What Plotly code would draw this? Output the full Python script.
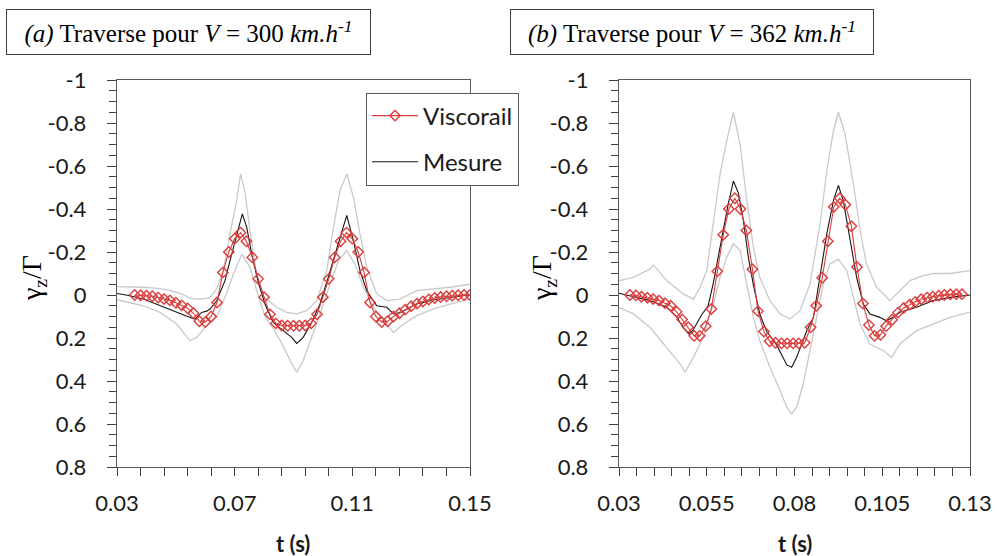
import plotly.graph_objects as go

# ---------------- data: panel (a) V = 300 km/h ----------------
a_visco_t = [0.036, 0.038, 0.040, 0.042, 0.044, 0.046, 0.048, 0.050, 0.052, 0.054,
             0.056, 0.058, 0.060, 0.062, 0.064, 0.066, 0.068, 0.070, 0.072, 0.074,
             0.076, 0.078, 0.080, 0.082, 0.084, 0.086, 0.088, 0.090, 0.092, 0.094,
             0.096, 0.098, 0.100, 0.102, 0.104, 0.106, 0.108, 0.110, 0.112, 0.114,
             0.116, 0.118, 0.120, 0.122, 0.124, 0.126, 0.128, 0.130, 0.132, 0.134,
             0.136, 0.138, 0.140, 0.142, 0.144, 0.146, 0.148, 0.150]
a_visco_v = [0.000, 0.001, 0.003, 0.006, 0.012, 0.019, 0.025, 0.036, 0.048, 0.062,
             0.085, 0.122, 0.126, 0.100, 0.035, -0.105, -0.200, -0.262, -0.290, -0.250,
             -0.175, -0.075, 0.010, 0.090, 0.132, 0.142, 0.143, 0.143, 0.143, 0.142,
             0.132, 0.090, 0.010, -0.075, -0.175, -0.250, -0.290, -0.262, -0.200, -0.105,
             0.035, 0.100, 0.126, 0.122, 0.100, 0.085, 0.068, 0.052, 0.040, 0.030,
             0.021, 0.014, 0.009, 0.006, 0.003, 0.001, 0.000, 0.000]

a_mes_t = [0.0300, 0.0340, 0.0390, 0.0446, 0.0503, 0.0540, 0.0565, 0.0588, 0.0605, 0.0616,
           0.0639, 0.0667, 0.0690, 0.0707, 0.0726, 0.0741, 0.0758, 0.0780, 0.0803, 0.0831,
           0.0865, 0.0894, 0.0911, 0.0933, 0.0962, 0.0990, 0.1018, 0.1047, 0.1065, 0.1081,
           0.1104, 0.1126, 0.1149, 0.1183, 0.1217, 0.1240, 0.1262, 0.1319, 0.1376, 0.1432,
           0.1489, 0.1500]
a_mes_v = [-0.007, 0.002, 0.019, 0.050, 0.081, 0.100, 0.112, 0.081, 0.075, 0.065,
           0.027, -0.067, -0.190, -0.284, -0.377, -0.315, -0.190, -0.060, 0.042, 0.127,
           0.166, 0.197, 0.225, 0.197, 0.127, 0.042, -0.082, -0.220, -0.300, -0.370,
           -0.250, -0.113, -0.020, 0.050, 0.057, 0.088, 0.081, 0.042, 0.023, 0.011,
           0.000, 0.002]

a_up_t = [0.0300, 0.0390, 0.0446, 0.0480, 0.0520, 0.0548, 0.0580, 0.0616, 0.0639, 0.0662,
          0.0684, 0.0707, 0.0720, 0.0735, 0.0752, 0.0775, 0.0800, 0.0843, 0.0877, 0.0911,
          0.0945, 0.0979, 0.1013, 0.1036, 0.1058, 0.1081, 0.1104, 0.1126, 0.1149, 0.1183,
          0.1217, 0.1262, 0.1319, 0.1376, 0.1432, 0.1500]
a_up_v = [-0.039, -0.036, -0.030, -0.022, -0.005, 0.015, 0.020, 0.012, -0.028, -0.121,
          -0.284, -0.440, -0.563, -0.480, -0.300, -0.090, 0.011, 0.057, 0.081, 0.088,
          0.073, 0.026, -0.113, -0.315, -0.485, -0.563, -0.454, -0.284, -0.129, -0.005,
          0.026, 0.019, -0.020, -0.028, -0.036, -0.050]

a_lo_t = [0.0300, 0.0390, 0.0446, 0.0503, 0.0548, 0.0571, 0.0605, 0.0639, 0.0667, 0.0696,
          0.0724, 0.0752, 0.0775, 0.0803, 0.0832, 0.0866, 0.0894, 0.0911, 0.0933, 0.0962,
          0.0990, 0.1024, 0.1053, 0.1081, 0.1109, 0.1138, 0.1172, 0.1206, 0.1240, 0.1274,
          0.1319, 0.1376, 0.1432, 0.1500]
a_lo_v = [0.022, 0.050, 0.081, 0.135, 0.213, 0.197, 0.143, 0.104, 0.011, -0.098,
          -0.190, -0.130, -0.020, 0.100, 0.158, 0.240, 0.320, 0.360, 0.305, 0.197,
          0.088, -0.050, -0.160, -0.206, -0.144, -0.036, 0.057, 0.120, 0.174, 0.135,
          0.096, 0.065, 0.042, 0.019]

# ---------------- data: panel (b) V = 362 km/h ----------------
b_visco_t = [0.0331, 0.0348, 0.0364, 0.0381, 0.0397, 0.0414, 0.0431, 0.0447, 0.0464, 0.0480,
             0.0497, 0.0514, 0.0530, 0.0547, 0.0563, 0.0580, 0.0597, 0.0613, 0.0630, 0.0646,
             0.0663, 0.0680, 0.0696, 0.0713, 0.0729, 0.0746, 0.0763, 0.0779, 0.0796, 0.0812,
             0.0829, 0.0846, 0.0862, 0.0879, 0.0895, 0.0912, 0.0929, 0.0945, 0.0962, 0.0978,
             0.0995, 0.1012, 0.1028, 0.1045, 0.1061, 0.1078, 0.1095, 0.1111, 0.1128, 0.1144,
             0.1161, 0.1178, 0.1194, 0.1211, 0.1227, 0.1244, 0.1261, 0.1277]
b_visco_v = [0.000, 0.002, 0.008, 0.013, 0.019, 0.026, 0.038, 0.050, 0.078, 0.114,
             0.150, 0.190, 0.190, 0.145, 0.065, -0.110, -0.280, -0.400, -0.450, -0.400,
             -0.300, -0.120, 0.075, 0.170, 0.215, 0.222, 0.225, 0.225, 0.225, 0.225,
             0.222, 0.150, 0.050, -0.080, -0.250, -0.410, -0.450, -0.420, -0.320, -0.130,
             0.040, 0.140, 0.190, 0.185, 0.145, 0.115, 0.082, 0.060, 0.045, 0.032,
             0.020, 0.012, 0.008, 0.003, 0.000, -0.003, -0.004, -0.004]

b_mes_t = [0.0300, 0.0341, 0.0388, 0.0436, 0.0464, 0.0482, 0.0498, 0.0510, 0.0522, 0.0535,
           0.0554, 0.0569, 0.0583, 0.0597, 0.0612, 0.0626, 0.0640, 0.0655, 0.0669, 0.0683,
           0.0702, 0.0721, 0.0749, 0.0778, 0.0792, 0.0806, 0.0820, 0.0835, 0.0854, 0.0873,
           0.0892, 0.0911, 0.0925, 0.0939, 0.0958, 0.0977, 0.0996, 0.1015, 0.1043, 0.1062,
           0.1081, 0.1100, 0.1148, 0.1195, 0.1243, 0.1300]
b_mes_v = [-0.008, 0.008, 0.026, 0.057, 0.100, 0.150, 0.180, 0.166, 0.130, 0.093,
           0.050, -0.058, -0.180, -0.310, -0.430, -0.530, -0.475, -0.340, -0.170, -0.046,
           0.093, 0.170, 0.232, 0.325, 0.336, 0.290, 0.228, 0.166, 0.104, -0.082,
           -0.284, -0.439, -0.510, -0.439, -0.270, -0.082, 0.042, 0.088, 0.104, 0.120,
           0.104, 0.080, 0.057, 0.026, 0.011, 0.000]

b_up_t = [0.0300, 0.0341, 0.0388, 0.0398, 0.0436, 0.0483, 0.0512, 0.0531, 0.0550, 0.0569,
          0.0588, 0.0607, 0.0626, 0.0645, 0.0664, 0.0683, 0.0701, 0.0730, 0.0759, 0.0787,
          0.0816, 0.0844, 0.0873, 0.0892, 0.0911, 0.0925, 0.0944, 0.0968, 0.0987, 0.1005,
          0.1034, 0.1072, 0.1100, 0.1129, 0.1167, 0.1195, 0.1243, 0.1300]
b_up_v = [-0.067, -0.082, -0.120, -0.140, -0.067, -0.005, 0.020, -0.036, -0.113, -0.330,
          -0.563, -0.718, -0.850, -0.700, -0.440, -0.222, -0.082, 0.026, 0.088, 0.112,
          0.073, -0.050, -0.330, -0.578, -0.764, -0.850, -0.749, -0.516, -0.300, -0.144,
          -0.036, 0.026, -0.020, -0.067, -0.090, -0.100, -0.100, -0.113]

b_lo_t = [0.0300, 0.0341, 0.0388, 0.0436, 0.0474, 0.0488, 0.0512, 0.0540, 0.0569, 0.0588,
          0.0607, 0.0626, 0.0645, 0.0664, 0.0683, 0.0701, 0.0730, 0.0759, 0.0778, 0.0792,
          0.0806, 0.0825, 0.0844, 0.0863, 0.0882, 0.0901, 0.0925, 0.0949, 0.0968, 0.0987,
          0.1015, 0.1053, 0.1077, 0.1100, 0.1148, 0.1195, 0.1243, 0.1300]
b_lo_v = [0.057, 0.088, 0.150, 0.243, 0.320, 0.360, 0.290, 0.197, 0.042, -0.082,
          -0.175, -0.240, -0.206, -0.050, 0.104, 0.212, 0.336, 0.445, 0.522, 0.553,
          0.522, 0.414, 0.259, 0.104, -0.050, -0.144, -0.167, -0.113, 0.011, 0.135,
          0.228, 0.259, 0.290, 0.228, 0.166, 0.135, 0.104, 0.080]

# ---------------- axis ticks ----------------
y_tickvals = [-1, -0.8, -0.6, -0.4, -0.2, 0, 0.2, 0.4, 0.6, 0.8]
y_ticktext = ["-1", "-0.8", "-0.6", "-0.4", "-0.2", "0", "0.2", "0.4", "0.6", "0.8"]
a_xtickvals = [0.03, 0.07, 0.11, 0.15]
a_xticktext = ["0.03", "0.07", "0.11", "0.15"]
b_xtickvals = [0.03, 0.055, 0.08, 0.105, 0.13]
b_xticktext = ["0.03", "0.055", "0.08", "0.105", "0.13"]

titles = ["<i>(a)</i> Traverse pour <i>V</i>\u00a0=\u00a0300 <i>km.h</i><sup><i>-1</i></sup>",
          "<i>(b)</i> Traverse pour <i>V</i>\u00a0=\u00a0362 <i>km.h</i><sup><i>-1</i></sup>"]
legend_names = ["Viscorail", "Mesure"]

# ---------------- styles ----------------
RED = "#DC3C3C"
GRAY = "#C9C9C9"
BLACK = "#151515"
FRAME = "#595959"
SANS = "Lato"
SERIF = "Liberation Serif, Times New Roman, serif"
W, H = 997, 556

fig = go.Figure()

def add_panel(xa, ya, vt, vv, mt, mv, ut, uv, lt, lv, show):
    fig.add_trace(go.Scatter(x=ut, y=uv, mode="lines", line=dict(color=GRAY, width=1.3),
                             xaxis=xa, yaxis=ya, showlegend=False, hoverinfo="skip"))
    fig.add_trace(go.Scatter(x=lt, y=lv, mode="lines", line=dict(color=GRAY, width=1.3),
                             xaxis=xa, yaxis=ya, showlegend=False, hoverinfo="skip"))
    fig.add_trace(go.Scatter(x=mt, y=mv, mode="lines", name=legend_names[1],
                             line=dict(color=BLACK, width=1.1),
                             xaxis=xa, yaxis=ya, showlegend=show, legendgroup="m"))
    fig.add_trace(go.Scatter(x=vt, y=vv, mode="lines+markers", name=legend_names[0],
                             line=dict(color=RED, width=1.1),
                             marker=dict(symbol="diamond-open", size=8, color=RED,
                                         line=dict(width=1.4, color=RED)),
                             xaxis=xa, yaxis=ya, showlegend=show, legendgroup="v",
                             legendrank=1))

add_panel("x", "y", a_visco_t, a_visco_v, a_mes_t, a_mes_v, a_up_t, a_up_v, a_lo_t, a_lo_v, True)
add_panel("x2", "y2", b_visco_t, b_visco_v, b_mes_t, b_mes_v, b_up_t, b_up_v, b_lo_t, b_lo_v, False)

tickfont = dict(family=SANS, size=22, color="#1a1a1a")
ydom = [1 - 467 / H, 1 - 80 / H]

def xaxis(dom, rng, tv, tt, minor_dt, anchor):
    return dict(domain=dom, range=rng, anchor=anchor, tickmode="array", tickvals=tv, ticktext=tt,
                ticks="outside", ticklen=8, tickwidth=1.2, tickcolor="#404040",
                minor=dict(dtick=minor_dt, tick0=0.03, ticks="outside", ticklen=8,
                           tickwidth=1.2, tickcolor="#404040"),
                showline=True, linecolor=FRAME, linewidth=1.4, mirror=True, automargin=False,
                showgrid=False, zeroline=False, tickfont=tickfont, ticklabelstandoff=8)

def yaxis(anchor):
    return dict(domain=ydom, range=[0.8, -1], anchor=anchor, tickmode="array",
                tickvals=y_tickvals, ticktext=y_ticktext,
                ticks="outside", ticklen=9, tickwidth=1.2, tickcolor="#404040",
                minor=dict(dtick=0.05, tick0=0, ticks="outside", ticklen=7,
                           tickwidth=1.2, tickcolor="#404040"),
                showline=True, linecolor=FRAME, linewidth=1.4, mirror=True, automargin=False,
                showgrid=False, zeroline=False, tickfont=tickfont, ticklabelstandoff=16)

fig.update_layout(
    width=W, height=H,
    margin=dict(l=0, r=0, t=0, b=0, autoexpand=False),
    paper_bgcolor="white", plot_bgcolor="white",
    xaxis=xaxis([117 / W, 470 / W], [0.03, 0.15], a_xtickvals, a_xticktext, 0.008, "y"),
    yaxis=yaxis("x"),
    xaxis2=xaxis([619 / W, 970 / W], [0.03, 0.13], b_xtickvals, b_xticktext, 0.005, "y2"),
    yaxis2=yaxis("x2"),
    showlegend=True,
    legend=dict(x=366 / W, y=1 - 92.5 / H, xanchor="left", yanchor="top",
                bgcolor="white", bordercolor=FRAME, borderwidth=1,
                font=dict(family=SANS, size=24, color="#1a1a1a"),
                tracegroupgap=12, traceorder="grouped", itemwidth=46),
)

# panel titles (boxed)
for txt, cx, wbox in [(titles[0], (6 + 371) / 2, 365), (titles[1], (510 + 874) / 2, 364)]:
    fig.add_annotation(text=txt, x=cx / W, y=1 - 32 / H, xref="paper", yref="paper",
                       xanchor="center", yanchor="middle", showarrow=False,
                       font=dict(family=SERIF, size=25, color="black"),
                       bordercolor="#404040", borderwidth=1, borderpad=1,
                       width=wbox - 4, height=42, bgcolor="white")

# axis titles
for cx in [33, 543]:
    fig.add_annotation(text="γ<sub>z</sub>/Γ", x=cx / W, y=1 - 278 / H, xref="paper", yref="paper",
                       xanchor="center", yanchor="middle", showarrow=False, textangle=-90,
                       font=dict(family=SERIF, size=28, color="black"))
for cx in [293, 795]:
    fig.add_annotation(text="<b>t (s)</b>", x=cx / W, y=1 - 543 / H, xref="paper", yref="paper",
                       xanchor="center", yanchor="middle", showarrow=False,
                       font=dict(family=SANS, size=22, color="#1a1a1a"))

fig.write_html("out.html", config={"displayModeBar": False},
               post_script="document.body.style.margin='0';")
